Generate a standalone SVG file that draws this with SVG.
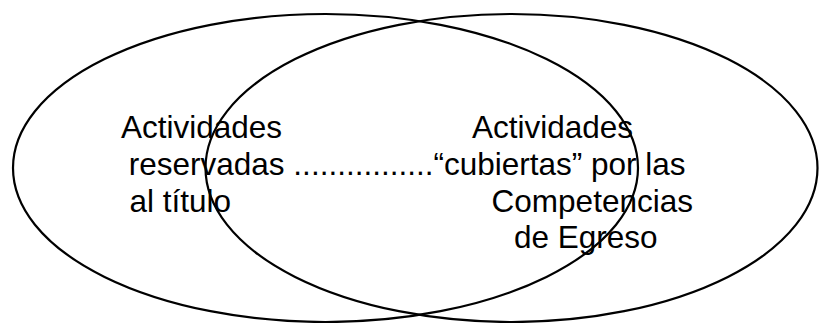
<svg xmlns="http://www.w3.org/2000/svg" width="819" height="323" viewBox="0 0 819 323">
<style>
.set{fill:none;stroke:#000;stroke-width:2.2}
.lbl{font-family:"Liberation Sans",Arial,sans-serif;font-size:31.5px;fill:#000}
</style>
<rect width="819" height="323" fill="#fff"/>
<g id="set-left">
<ellipse class="set" cx="325.5" cy="168" rx="312.5" ry="154"/>
</g>
<g id="set-right">
<ellipse class="set" cx="511.5" cy="168" rx="306" ry="154"/>
</g>
<g id="connectors"/>
<g id="labels">
<text class="lbl" x="121" y="137.5">Actividades</text>
<text class="lbl" x="472" y="137.5">Actividades</text>
<text class="lbl" x="128.8" y="174.5">reservadas ................“cubiertas” por las</text>
<text class="lbl" x="129.5" y="211.5">al título</text>
<text class="lbl" x="491.6" y="211.5">Competencias</text>
<text class="lbl" x="514" y="248">de Egreso</text>
</g>
</svg>
